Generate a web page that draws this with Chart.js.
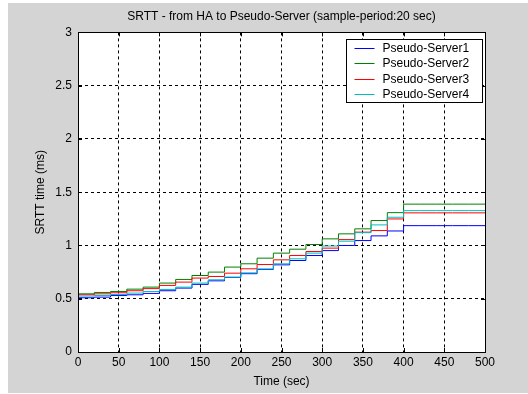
<!DOCTYPE html>
<html>
<head>
<meta charset="utf-8">
<script src="https://cdn.jsdelivr.net/npm/chart.js@4"></script>
<style>
  html, body { margin: 0; padding: 0; background: #ffffff; }
  #wrap { position: absolute; left: 8px; top: 3px; width: 520px; height: 390px; }
</style>
</head>
<body>
<div id="wrap"><canvas id="srttChart" width="520" height="390"></canvas></div>
<script>
// sample times (sec), one sample every 20 sec
const times = [0, 20, 40, 60, 80, 100, 120, 140, 160, 180, 200, 220, 240,
  260, 280, 300, 320, 340, 360, 380, 400, 420, 440, 460, 480, 500];

// SRTT (ms) per pseudo-server
const server1 = [0.509, 0.515, 0.530, 0.537, 0.550, 0.575, 0.600, 0.635, 0.668, 0.700, 0.735, 0.775, 0.818,
  0.859, 0.906, 0.952, 1.000, 1.046, 1.090, 1.136, 1.186, 1.186, 1.186, 1.186, 1.186, 1.186];
const server2 = [0.546, 0.559, 0.568, 0.590, 0.609, 0.647, 0.681, 0.718, 0.750, 0.797, 0.828, 0.881, 0.928,
  0.965, 1.009, 1.062, 1.109, 1.156, 1.234, 1.308, 1.388, 1.388, 1.388, 1.388, 1.388, 1.388];
const server3 = [0.537, 0.546, 0.556, 0.575, 0.595, 0.625, 0.656, 0.694, 0.709, 0.740, 0.781, 0.821, 0.865,
  0.906, 0.943, 0.975, 1.055, 1.125, 1.140, 1.249, 1.306, 1.306, 1.306, 1.306, 1.306, 1.306];
const server4 = [0.525, 0.530, 0.540, 0.553, 0.568, 0.587, 0.609, 0.647, 0.678, 0.703, 0.743, 0.780, 0.828,
  0.875, 0.928, 0.995, 1.040, 1.120, 1.193, 1.265, 1.327, 1.327, 1.327, 1.327, 1.327, 1.327];

const seriesNames = ['Pseudo-Server1', 'Pseudo-Server2', 'Pseudo-Server3', 'Pseudo-Server4'];
const seriesColors = ['rgb(0,0,255)', 'rgb(0,128,0)', 'rgb(255,0,0)', 'rgb(0,191,191)'];

const xTicks = [0, 50, 100, 150, 200, 250, 300, 350, 400, 450, 500];
const yTicks = [0, 0.5, 1, 1.5, 2, 2.5, 3];

const FONT = 'Liberation Sans, Arial, sans-serif';

function toPoints(values) {
    return times.map((t, i) => ({ x: t, y: values[i] }));
}

// gray figure, white axes, box with inward ticks, legend box
const matlabLook = {
    id: 'matlabLook',
    beforeDraw(chart) {
        const { ctx, chartArea: a } = chart;
        ctx.save();
        ctx.fillStyle = '#d4d4d4';
        ctx.fillRect(0, 0, chart.width, chart.height);
        ctx.fillStyle = '#ffffff';
        ctx.fillRect(a.left, a.top, a.right - a.left, a.bottom - a.top);
        ctx.restore();
    },
    afterDraw(chart) {
        const { ctx, chartArea: a } = chart;
        const xs = chart.scales.x, ys = chart.scales.y;
        ctx.save();
        ctx.strokeStyle = '#000000';
        ctx.lineWidth = 1;
        ctx.strokeRect(Math.round(a.left) + 0.5, Math.round(a.top) + 0.5,
            Math.round(a.right - a.left), Math.round(a.bottom - a.top));
        // inward ticks on all sides
        ctx.beginPath();
        xTicks.forEach(v => {
            const px = Math.round(xs.getPixelForValue(v)) + 0.5;
            ctx.moveTo(px, a.bottom); ctx.lineTo(px, a.bottom - 4);
            ctx.moveTo(px, a.top); ctx.lineTo(px, a.top + 4);
        });
        yTicks.forEach(v => {
            const py = Math.round(ys.getPixelForValue(v)) + 0.5;
            ctx.moveTo(a.left, py); ctx.lineTo(a.left + 4, py);
            ctx.moveTo(a.right, py); ctx.lineTo(a.right - 4, py);
        });
        ctx.stroke();

        // legend
        const bx = 338.5, by = 36.5, bw = 136, bh = 63;
        ctx.fillStyle = '#ffffff';
        ctx.fillRect(bx, by, bw, bh);
        ctx.strokeRect(bx, by, bw, bh);
        ctx.font = '12px ' + FONT;
        ctx.textBaseline = 'middle';
        ctx.textAlign = 'left';
        seriesNames.forEach((name, i) => {
            const yy = Math.round(by + 8 + i * 15.6) + 0.5;
            ctx.strokeStyle = seriesColors[i];
            ctx.beginPath();
            ctx.moveTo(bx + 8, yy); ctx.lineTo(bx + 28, yy);
            ctx.stroke();
            ctx.fillStyle = '#000000';
            ctx.fillText(name, bx + 36, yy);
        });
        ctx.restore();
    }
};

const ctx = document.getElementById('srttChart').getContext('2d');
new Chart(ctx, {
    type: 'line',
    data: {
        datasets: [server1, server2, server3, server4].map((vals, i) => ({
            label: seriesNames[i],
            data: toPoints(vals),
            borderColor: seriesColors[i],
            backgroundColor: seriesColors[i],
            borderWidth: 1,
            pointRadius: 0,
            stepped: 'before',
            fill: false,
            order: 4 - i
        }))
    },
    options: {
        responsive: false,
        animation: false,
        layout: { padding: { left: 0, right: 43, top: 0, bottom: 0 } },
        plugins: {
            legend: { display: false },
            tooltip: { enabled: false },
            title: {
                display: true,
                fullSize: false,
                text: 'SRTT - from HA to Pseudo-Server (sample-period:20 sec)',
                color: '#000000',
                font: { family: FONT, size: 12, weight: 'normal' },
                padding: { top: 6, bottom: 9 }
            }
        },
        scales: {
            x: {
                type: 'linear',
                min: 0,
                max: 500,
                afterBuildTicks: s => { s.ticks = xTicks.map(v => ({ value: v })); },
                afterFit: s => { s.height = 41; },
                ticks: {
                    color: '#000000',
                    font: { family: FONT, size: 12 },
                    padding: 3,
                    maxRotation: 0,
                    callback: v => String(v)
                },
                grid: { color: '#000000', lineWidth: 1, drawTicks: false },
                border: { display: true, color: '#000000', dash: [3, 3] },
                title: {
                    display: true,
                    text: 'Time (sec)',
                    color: '#000000',
                    font: { family: FONT, size: 12 },
                    padding: { top: 0, bottom: 4 }
                }
            },
            y: {
                type: 'linear',
                min: 0,
                max: 3,
                afterBuildTicks: s => { s.ticks = yTicks.map(v => ({ value: v })); },
                afterFit: s => { s.width = 70; },
                ticks: {
                    color: '#000000',
                    font: { family: FONT, size: 12 },
                    padding: 6,
                    callback: v => String(v)
                },
                grid: { color: '#000000', lineWidth: 1, drawTicks: false },
                border: { display: true, color: '#000000', dash: [3, 3] },
                title: {
                    display: true,
                    text: 'SRTT time (ms)',
                    color: '#000000',
                    font: { family: FONT, size: 12 },
                    padding: { top: 25, bottom: 0 }
                }
            }
        }
    },
    plugins: [matlabLook]
});
</script>
</body>
</html>
